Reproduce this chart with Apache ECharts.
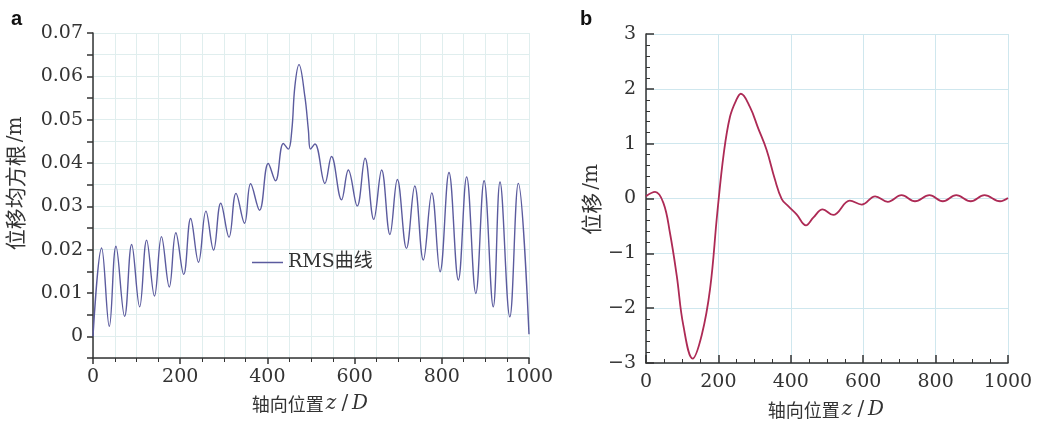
<!DOCTYPE html>
<html><head><meta charset="utf-8">
<script src="https://cdn.jsdelivr.net/npm/echarts@6/dist/echarts.min.js"></script>
<style>html,body{margin:0;padding:0;background:#fff}#c{width:1038px;height:425px}</style>
</head><body><div id="c"></div>
<script>
// Panel a: RMS curve (z/D, RMS displacement in m)
const rmsZ = [0,19.8,37.4,52.7,72.5,88.7,107,123,141,157,175,190,208,224,242,259,276.5,293,312,328,347.6,361.5,382,402,418.6,436.5,448,456,463,472.5,486,494,499,509,532,547,570,585.6,606,624,644,662,681,698,719,738,757.6,777,796,816.5,838,857,878,897,918,933.5,956,975.5,1000];
const rmsV = [0,0.0204,0.0023,0.0208,0.0046,0.0212,0.0068,0.0222,0.0093,0.0230,0.0114,0.0239,0.0143,0.0272,0.0171,0.0289,0.0199,0.0307,0.0229,0.0330,0.0261,0.0352,0.0291,0.0399,0.0359,0.0445,0.0432,0.0476,0.0577,0.0627,0.0553,0.0476,0.0432,0.0444,0.0353,0.0415,0.0315,0.0384,0.0301,0.0411,0.0270,0.0384,0.0235,0.0362,0.0203,0.0347,0.0176,0.0331,0.0149,0.0378,0.0130,0.0368,0.0099,0.0359,0.0068,0.0356,0.0045,0.0353,0.0005];
// Panel b: displacement curve
const dispZ = [0,25,48,66,85,103,129,154,177,197,215,232,249,262,287,310,333,356,375,393,416,442,462,488,517,563,596,633,668,706,743,783,820,857,897,935,978,1000];
const dispV = [0.04,0.12,-0.08,-0.62,-1.41,-2.31,-2.92,-2.49,-1.65,-0.26,0.83,1.49,1.79,1.91,1.67,1.28,0.89,0.35,-0.01,-0.14,-0.29,-0.49,-0.35,-0.20,-0.30,-0.04,-0.11,0.04,-0.06,0.06,-0.05,0.06,-0.05,0.06,-0.05,0.06,-0.05,0.01];
const yLabelsA = ['0','0.01','0.02','0.03','0.04','0.05','0.06','0.07'];
const legendName = 'RMS曲线';
const xName = '轴向位置{i|z}{s|/}{i|D}';
const yNameA = '位移均方根{s|/m}';
const yNameB = '位移{s|/m}';

const serif = 'DejaVu Serif';
const lab = {fontFamily: serif, fontSize: 19, color: '#333'};
function nameStyle(sz, pad) {
  return {fontFamily: 'Noto Sans CJK SC', fontSize: sz, color: '#333', padding: pad,
    rich: {
      i: {fontFamily: serif, fontStyle: 'italic', fontSize: 20, color: '#333', padding: [0, 2, 0, 2]},
      s: {fontFamily: serif, fontSize: 20, color: '#333', padding: [0, 2, 0, 3]}
    }};
}
const axLine = {show: true, onZero: false, lineStyle: {color: '#333', width: 1.5}};
const faint = {show: true, lineStyle: {color: '#e0eeee', width: 1}};
const plain = function (v) { return v < 0 ? '\u2212' + Math.abs(v) : String(v); };

const chart = echarts.init(document.getElementById('c'));
chart.setOption({
  animation: false,
  title: [
    {text: 'a', left: 6, top: 4, textStyle: {fontFamily: 'Liberation Sans', fontSize: 20, fontWeight: 'bold', color: '#111'}},
    {text: 'b', left: 575, top: 4, textStyle: {fontFamily: 'Liberation Sans', fontSize: 20, fontWeight: 'bold', color: '#111'}}
  ],
  legend: {
    data: [{name: legendName, icon: 'rect'}], left: 247, top: 248, itemWidth: 31, itemHeight: 1.5,
    textStyle: {fontFamily: serif + ', Noto Sans CJK SC', fontSize: 19, color: '#333'}
  },
  grid: [
    {left: 93, top: 33, right: 509, bottom: 67},
    {left: 646, top: 34, right: 30, bottom: 60}
  ],
  xAxis: [
    {gridIndex: 0, type: 'value', min: 0, max: 1000, interval: 200,
     name: xName, nameLocation: 'middle', nameGap: 36, nameTextStyle: nameStyle(18),
     axisLine: axLine, axisTick: {show: true, inside: false, length: 6, lineStyle: {color: '#333', width: 1.5}},
     minorTick: {show: true, splitNumber: 4, length: 4, lineStyle: {color: '#333'}},
     axisLabel: Object.assign({margin: 10, formatter: plain}, lab),
     splitLine: faint, minorSplitLine: faint},
    {gridIndex: 1, type: 'value', min: 0, max: 1000, interval: 200,
     name: xName, nameLocation: 'middle', nameGap: 37, nameTextStyle: nameStyle(18),
     axisLine: axLine, axisTick: {show: true, inside: true, length: 8, lineStyle: {color: '#333', width: 1.5}},
     minorTick: {show: true, splitNumber: 4, length: 4, lineStyle: {color: '#333'}},
     axisLabel: Object.assign({margin: 10, formatter: plain}, lab),
     splitLine: {show: true, lineStyle: {color: '#cfe7ee', width: 1}}}
  ],
  yAxis: [
    {gridIndex: 0, type: 'value', min: -0.005, max: 0.07, interval: 0.005,
     name: yNameA, nameLocation: 'middle', nameGap: 67, nameRotate: 90, nameTextStyle: nameStyle(21, [0, 0, 0, 26]),
     axisLine: axLine, axisTick: {show: true, inside: false, length: 6, lineStyle: {color: '#333', width: 1.5}},
     axisLabel: Object.assign({margin: 10, formatter: function (v) {
       const k = Math.round(v * 1000);
       if (k < 0 || k % 10 !== 0) return '';
       return yLabelsA[k / 10];
     }}, lab),
     splitLine: faint},
    {gridIndex: 1, type: 'value', min: -3, max: 3, interval: 1,
     name: yNameB, nameLocation: 'middle', nameGap: 44, nameRotate: 90, nameTextStyle: nameStyle(21),
     axisLine: axLine, axisTick: {show: true, inside: true, length: 8, lineStyle: {color: '#333', width: 1.5}},
     minorTick: {show: true, splitNumber: 5, length: 4, lineStyle: {color: '#333'}},
     axisLabel: Object.assign({margin: 10, formatter: plain}, lab),
     splitLine: {show: true, lineStyle: {color: '#cfe7ee', width: 1}}}
  ],
  series: [
    {name: legendName, type: 'line', xAxisIndex: 0, yAxisIndex: 0, symbol: 'none', smooth: 0.4,
     lineStyle: {color: '#5b5b9e', width: 1.4}, itemStyle: {color: '#5b5b9e'},
     data: rmsZ.map((z, i) => [z, rmsV[i]])},
    {name: 'disp', type: 'line', xAxisIndex: 1, yAxisIndex: 1, symbol: 'none', smooth: 0.4,
     lineStyle: {color: '#ad2a55', width: 1.8}, itemStyle: {color: '#ad2a55'},
     data: dispZ.map((z, i) => [z, dispV[i]])}
  ]
});
</script></body></html>
